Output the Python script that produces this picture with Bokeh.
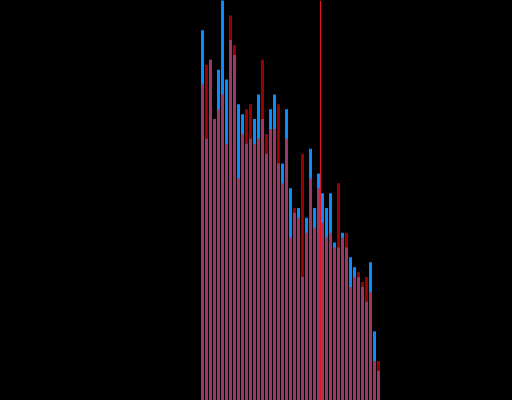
from bokeh.plotting import figure
from bokeh.models import Range1d, Span, ColumnDataSource
from bokeh.embed import file_html
from bokeh.resources import INLINE

# Histogram bins (bin index) and counts for the two overlaid series
bins = list(range(45))
blue_counts = [75, 53, 69, 57, 67, 82, 65, 73, 70, 60, 58, 52, 53, 57, 62, 57,
               50, 59, 62, 48, 48, 59, 43, 38, 39, 25, 37, 51, 39, 46, 42, 39,
               42, 32, 31, 34, 31, 29, 27, 25, 23, 20, 28, 14, 6]
red_counts = [64, 68, 69, 57, 59, 62, 52, 78, 72, 45, 54, 59, 60, 52, 53, 69,
              54, 55, 55, 60, 44, 53, 33, 39, 37, 50, 34, 45, 35, 43, 36, 33,
              34, 31, 44, 33, 34, 23, 25, 26, 24, 25, 22, 8, 8]
marker_value = 29.875

BAR_W = 0.75

src = ColumnDataSource(dict(
    left=bins,
    right=[b + BAR_W for b in bins],
    blue=blue_counts,
    red=red_counts,
))

p = figure(width=512, height=400, output_backend="svg", toolbar_location=None,
           x_range=Range1d(-50.125, 77.875), y_range=Range1d(0, 81.013),
           x_axis_location=None, y_axis_location=None,
           min_border=0, min_border_left=0, min_border_right=0,
           min_border_top=0, min_border_bottom=0,
           background_fill_color="#000000", border_fill_color="#000000",
           outline_line_color=None)
p.grid.visible = False

p.quad(left="left", right="right", bottom=0, top="blue", source=src,
       fill_color="#0a8cff", line_color=None)
p.quad(left="left", right="right", bottom=0, top="red", source=src,
       fill_color="#ff0000", fill_alpha=0.6, line_color=None)

p.add_layout(Span(location=marker_value, dimension="height",
                  line_color="#e8141c", line_width=1))

html = file_html(p, INLINE)
html = html.replace("</head>", "<style>html,body{background:#000000;overflow:hidden;}</style></head>", 1)
open("out.html", "w").write(html)
